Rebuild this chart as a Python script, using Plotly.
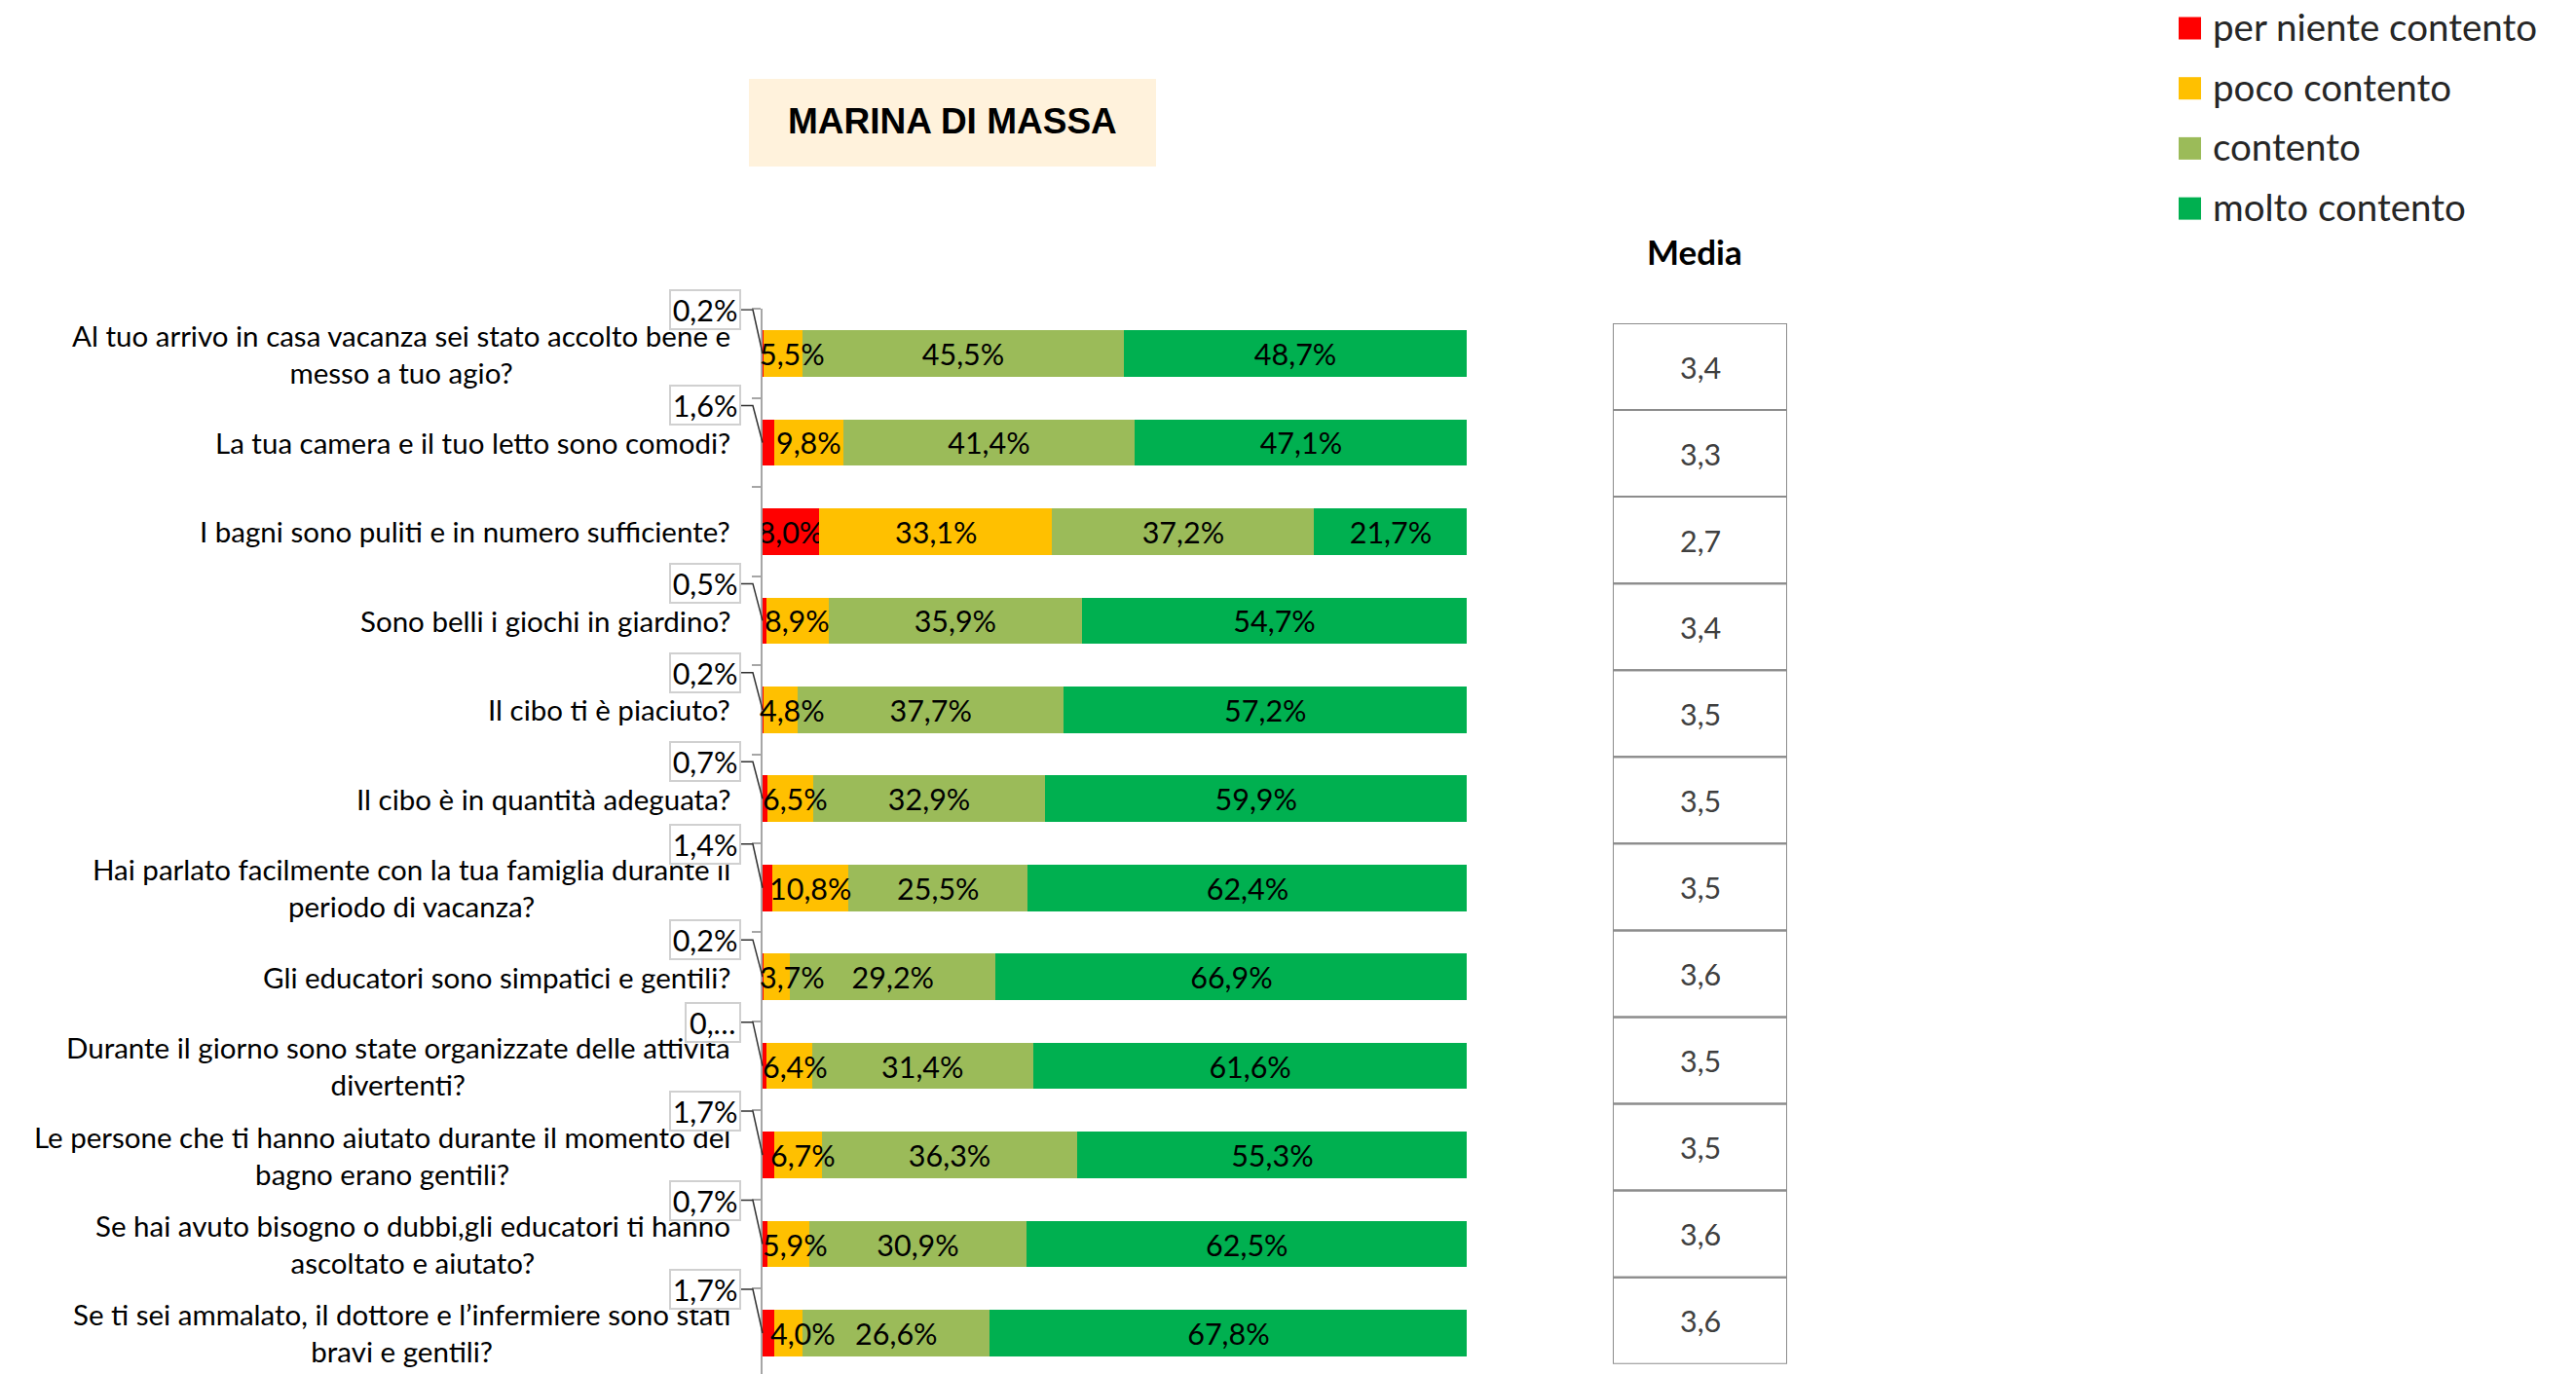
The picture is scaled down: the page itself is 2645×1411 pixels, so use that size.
import plotly.graph_objects as go

# ---------------- data ----------------
categories = [
    "Al tuo arrivo in casa vacanza sei stato accolto bene e<br>messo a tuo agio?",
    "La tua camera e il tuo letto sono comodi?",
    "I bagni sono puliti e in numero sufficiente?",
    "Sono belli i giochi in giardino?",
    "Il cibo ti è piaciuto?",
    "Il cibo è in quantità adeguata?",
    "Hai parlato facilmente con la tua famiglia durante il<br>periodo di vacanza?",
    "Gli educatori sono simpatici e gentili?",
    "Durante il giorno sono state organizzate delle attività<br>divertenti?",
    "Le persone che ti hanno aiutato durante il momento del<br>bagno erano gentili?",
    "Se hai avuto bisogno o dubbi,gli educatori ti hanno<br>ascoltato e aiutato?",
    "Se ti sei ammalato, il dottore e l’infermiere sono stati<br>bravi e gentili?",
]
per_niente = [0.2, 1.6, 8.0, 0.5, 0.2, 0.7, 1.4, 0.2, 0.6, 1.7, 0.7, 1.7]
per_niente_labels = ["0,2%", "1,6%", "8,0%", "0,5%", "0,2%", "0,7%", "1,4%", "0,2%", "0,…", "1,7%", "0,7%", "1,7%"]
poco = [5.5, 9.8, 33.1, 8.9, 4.8, 6.5, 10.8, 3.7, 6.4, 6.7, 5.9, 4.0]
contento = [45.5, 41.4, 37.2, 35.9, 37.7, 32.9, 25.5, 29.2, 31.4, 36.3, 30.9, 26.6]
molto = [48.7, 47.1, 21.7, 54.7, 57.2, 59.9, 62.4, 66.9, 61.6, 55.3, 62.5, 67.8]
media = [3.4, 3.3, 2.7, 3.4, 3.5, 3.5, 3.5, 3.6, 3.5, 3.5, 3.6, 3.6]
series_names = ["per niente contento", "poco contento", "contento", "molto contento"]
colors = ["#FF0000", "#FFC000", "#9BBB59", "#00B050"]
title_text = "MARINA DI MASSA"
media_title = "Media"

# ---------------- layout constants (pixels) ----------------
W, H = 2645, 1411
PLOT_L = 783
PX_PER_PCT = 7.234
X_MAX = 100.05
PLOT_R = PLOT_L + X_MAX * PX_PER_PCT
PLOT_T, PLOT_B = 317.3, 1411
ROW_PX = 91.45
BAR_PX = 47.7
TABLE_L, TABLE_R, TABLE_T, TABLE_B = 1656, 1835, 332, 1400.7
FONT = "Lato"
S_CAT = 29.5
S_LBL = 30.5


def px_x(p):
    return p / W


def px_y(p):
    return 1 - p / H


def fmt_pct(v):
    return f"{v:.1f}".replace(".", ",") + "%"


def fmt_num(v):
    return f"{v:.1f}".replace(".", ",")


n = len(categories)
y_units = (PLOT_B - PLOT_T) / ROW_PX

fig = go.Figure()

seg_values = [per_niente, poco, contento, molto]
seg_texts = [
    [lbl if v >= 3 else "" for v, lbl in zip(per_niente, per_niente_labels)],
    ["" for _ in poco],
    [fmt_pct(v) for v in contento],
    [fmt_pct(v) for v in molto],
]
for name, vals, col, txt in zip(series_names, seg_values, colors, seg_texts):
    fig.add_trace(go.Bar(
        y=categories, x=vals, orientation="h", name=name,
        marker=dict(color=col, line=dict(width=0)),
        text=txt, textposition="inside", insidetextanchor="middle",
        constraintext="none", textangle=0,
        textfont=dict(family=FONT, size=S_LBL, color="#000000"),
        showlegend=False, hoverinfo="skip",
    ))

shapes = []
annotations = []

# yellow labels: centred, but kept from sliding left of the segment start
for cat, p, y in zip(categories, per_niente, poco):
    annotations.append(dict(text=fmt_pct(y), xref="x", yref="y",
                            x=max(p + y / 2, p + 4.0), y=cat,
                            xanchor="center", yanchor="middle", showarrow=False,
                            font=dict(family=FONT, size=S_LBL, color="#000000")))

# Media table: cells + values
for i, (cat, v) in enumerate(zip(categories, media)):
    shapes.append(dict(type="rect", xref="x2", yref="y2", x0=0, x1=1,
                       y0=i - 0.5, y1=i + 0.5,
                       line=dict(color="#8C8C8C", width=2), fillcolor="rgba(0,0,0,0)"))
    annotations.append(dict(text=fmt_num(v), xref="x2", yref="y2", x=0.5, y=cat,
                            xanchor="center", yanchor="middle", showarrow=False,
                            font=dict(family=FONT, size=S_LBL, color="#404040")))

# category labels (lines centred on each other, block right-aligned to the axis)
for cat in categories:
    annotations.append(dict(text=cat, xref="paper", x=px_x(752), xanchor="right",
                            yref="y", y=cat, yanchor="middle", align="center",
                            showarrow=False,
                            font=dict(family=FONT, size=S_CAT, color="#000000")))

# callouts for small "per niente" values
for i, (cat, v, lbl) in enumerate(zip(categories, per_niente, per_niente_labels)):
    if v >= 3:
        continue
    shift = 45 if "<br>" in cat else 38
    annotations.append(dict(text=lbl, xref="paper", x=px_x(761), xanchor="right",
                            yref="y", y=cat, yanchor="middle", yshift=shift,
                            showarrow=False, bgcolor="#FFFFFF", bordercolor="#D0D0D0",
                            borderwidth=2, borderpad=2, width=16.5 * len(lbl), height=34,
                            align="center",
                            font=dict(family=FONT, size=S_LBL, color="#000000")))
    dy = shift / ROW_PX
    shapes.append(dict(type="path", xref="paper", yref="y",
                       path=f"M {px_x(761)},{i - dy} L {px_x(773)},{i - dy} L {px_x(783)},{i}",
                       line=dict(color="#303030", width=1.5)))

# title box
shapes.append(dict(type="rect", xref="paper", yref="paper",
                   x0=px_x(769), x1=px_x(1187), y0=px_y(171), y1=px_y(81),
                   fillcolor="#FFF2DC", line=dict(width=0), layer="below"))
annotations.append(dict(text=f"<b>{title_text}</b>", xref="paper", yref="paper",
                        x=px_x(978), y=px_y(124), xanchor="center", yanchor="middle",
                        showarrow=False,
                        font=dict(family="Liberation Sans", size=37, color="#000000")))

# Media header
annotations.append(dict(text=f"<b>{media_title}</b>", xref="paper", yref="paper",
                        x=px_x(1740), y=px_y(258), xanchor="center", yanchor="middle",
                        showarrow=False, font=dict(family=FONT, size=35, color="#000000")))

# legend (manual, large squares)
for k, (name, col) in enumerate(zip(series_names, colors)):
    cy = 29 + 61.7 * k
    shapes.append(dict(type="rect", xref="paper", yref="paper",
                       x0=px_x(2237), x1=px_x(2260), y0=px_y(cy + 11.5), y1=px_y(cy - 11.5),
                       fillcolor=col, line=dict(width=0)))
    annotations.append(dict(text=name, xref="paper", yref="paper",
                            x=px_x(2270), y=px_y(cy - 2), xanchor="left", yanchor="middle",
                            showarrow=False, font=dict(family=FONT, size=38.5, color="#262626")))

fig.update_layout(
    width=W, height=H, margin=dict(l=0, r=0, t=0, b=0),
    paper_bgcolor="#FFFFFF", plot_bgcolor="rgba(0,0,0,0)",
    barmode="stack", barnorm="percent", bargap=1 - BAR_PX / ROW_PX,
    showlegend=False,
    font=dict(family=FONT, color="#000000"),
    xaxis=dict(domain=[px_x(PLOT_L), px_x(PLOT_R)], range=[0, X_MAX], visible=False,
               showgrid=False, zeroline=False, fixedrange=True),
    yaxis=dict(domain=[px_y(PLOT_B), px_y(PLOT_T)], type="category",
               categoryorder="array", categoryarray=categories,
               range=[-0.5 + y_units, -0.5],
               showline=True, linecolor="#A6A6A6", linewidth=2,
               ticks="outside", tickson="boundaries", ticklen=9, tickcolor="#A6A6A6",
               tickwidth=2, showticklabels=False, showgrid=False, zeroline=False),
    xaxis2=dict(domain=[px_x(TABLE_L), px_x(TABLE_R)], range=[0, 1], visible=False,
                anchor="y2"),
    yaxis2=dict(domain=[px_y(TABLE_B), px_y(TABLE_T)], type="category",
                categoryorder="array", categoryarray=categories,
                range=[n - 0.5, -0.5], visible=False, anchor="x2"),
    shapes=shapes,
    annotations=annotations,
)

fig.write_html("out.html", config={"displayModeBar": False},
               post_script="document.body.style.margin='0px';")
